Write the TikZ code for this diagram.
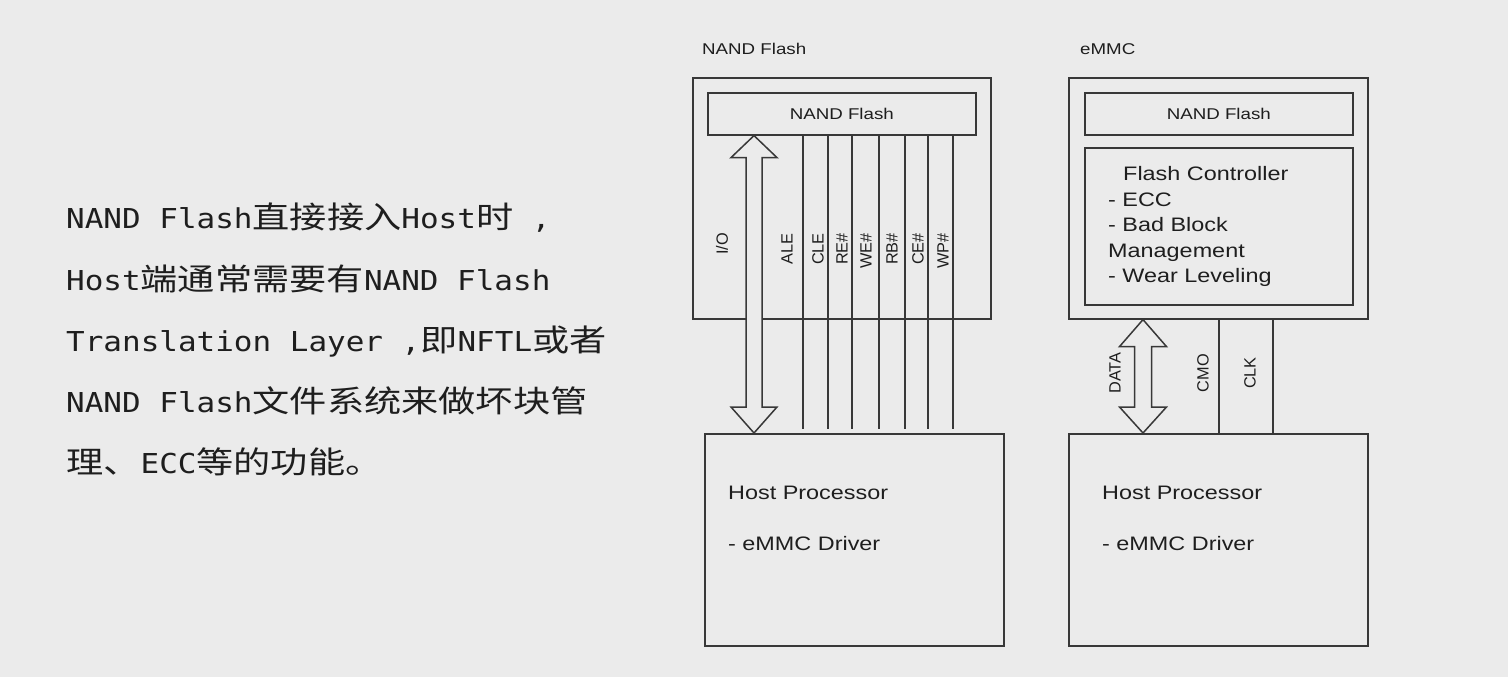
\documentclass[tikz,border=0pt]{standalone}
\usepackage{fontspec}
\setmainfont[FakeStretch=1.2]{Liberation Sans}
\newfontfamily\rotf{Liberation Sans}
\newfontfamily\monof[FakeStretch=1.13]{DejaVu Sans Mono}
\newfontfamily\cjkf[FakeStretch=1.22]{Noto Sans CJK SC}
\usetikzlibrary{calc}
\newcommand\mtxt[1]{{\monof\fontsize{27.4}{32}\selectfont #1}}
\newcommand\ctxt[1]{{\cjkf\fontsize{30.5}{32}\selectfont #1}}
\definecolor{bgc}{HTML}{EBEBEB}
\definecolor{lnc}{HTML}{383838}
\definecolor{txc}{HTML}{1E1E1E}
\tikzset{
  x=1pt, y=-1pt,
  box/.style={draw=lnc, line width=1.6pt, fill=bgc, inner sep=0pt, anchor=north west, text=txc},
  small/.style={font=\fontsize{15.6}{18}\selectfont, text=txc, inner sep=0pt},
  big/.style={font=\fontsize{19.5}{25.5}\selectfont, text=txc, inner sep=0pt, align=left, anchor=north west},
  sig/.style={draw=lnc, line width=1.5pt},
  siglbl/.style={font=\rotf\fontsize{16.3}{18}\selectfont, text=txc, inner sep=0pt, rotate=90},
  bus/.style={draw=lnc, line width=1.5pt, fill=bgc, line join=miter},
  para/.style={inner sep=0pt, anchor=base west, text=txc},
}
\begin{document}
\begin{tikzpicture}
\fill[bgc] (0,0) rectangle (1508,677);
\useasboundingbox (0,0) rectangle (1508,677);

% ---- left paragraph ----
\node[para] (p1) at (66,228) {\mtxt{NAND Flash}\ctxt{直接接入}\mtxt{Host}\ctxt{时}\mtxt{\ ,}};
\node[para] (p2) at (66,290) {\mtxt{Host}\ctxt{端通常需要有}\mtxt{NAND Flash}};
\node[para] (p3) at (66,351) {\mtxt{Translation Layer ,}\ctxt{即}\mtxt{NFTL}\ctxt{或者}};
\node[para] (p4) at (66,412) {\mtxt{NAND Flash}\ctxt{文件系统来做坏块管}};
\node[para] (p5) at (66,473) {\ctxt{理、}\mtxt{ECC}\ctxt{等的功能。}};

% ---- NAND Flash side ----
\node[small, anchor=west] (lblN) at (702,49) {NAND Flash};
\node[box, minimum width=298pt, minimum height=241pt] (outerL) at (692,77) {};
\node[box, minimum width=268pt, minimum height=42pt, font=\fontsize{15.6}{18}\selectfont] (nandL) at (707,92) {NAND Flash};
\node[box, minimum width=299pt, minimum height=212pt] (hostL) at (704,433) {};
\node[big] (hostLt) at ($(hostL.north west)+(24,53)$) {Host Processor\\[25.5pt]- eMMC Driver};

% I/O bus arrow
\coordinate (ioT) at (754,0 |- nandL.south);
\coordinate (ioB) at (754,0 |- hostL.north);
\draw[bus] (ioT) -- ++(23,22) -- ++(-15,0) -- ($(ioB)+(8,-26)$) -- ++(15,0) -- (ioB)
  -- ++(-23,-26) -- ++(15,0) -- ($(ioT)+(-8,22)$) -- ++(-15,0) -- cycle;
\node[siglbl, anchor=east] (lio) at (722,233) {I/O};

% control lines
\foreach \xx/\lx/\nm/\tt in {803/787/ale/ALE, 828/818/cle/CLE, 852/842/re/RE\#, 879/866/we/WE\#, 905/892/rb/RB\#, 928/918/ce/CE\#, 953/943/wp/WP\#}{
  \coordinate (\nm T) at (\xx,0 |- nandL.south);
  \coordinate (\nm B) at ($(\xx,0 |- hostL.north)+(0,-4)$);
  \draw[sig] (\nm T) -- (\nm B);
  \node[siglbl, anchor=east] (l\nm) at (\lx,233) {\tt};
}

% ---- eMMC side ----
\node[small, anchor=west] (lblE) at (1080,49) {eMMC};
\node[box, minimum width=299pt, minimum height=241pt] (outerR) at (1068,77) {};
\node[box, minimum width=268pt, minimum height=42pt, font=\fontsize{15.6}{18}\selectfont] (nandR) at (1084,92) {NAND Flash};
\node[box, minimum width=268pt, minimum height=157pt] (ctrl) at (1084,147) {};
\node[big] (ctrlt) at (1108,166.5) {\hspace*{15pt}Flash Controller\\- ECC\\- Bad Block\\Management\\- Wear Leveling};
\node[box, minimum width=299pt, minimum height=212pt] (hostR) at (1068,433) {};
\node[big] (hostRt) at ($(hostR.north west)+(34,53)$) {Host Processor\\[25.5pt]- eMMC Driver};

% DATA bus arrow
\coordinate (dT) at (1143,0 |- outerR.south);
\coordinate (dB) at (1143,0 |- hostR.north);
\draw[bus] (dT) -- ++(23.5,27) -- ++(-15,0) -- ($(dB)+(8.5,-26)$) -- ++(15,0) -- (dB)
  -- ++(-23.5,-26) -- ++(15,0) -- ($(dT)+(-8.5,27)$) -- ++(-15,0) -- cycle;
\node[siglbl] (ldata) at (1115,373) {DATA};

\draw[sig] (1219,0 |- outerR.south) coordinate (cmoT) -- (1219,0 |- hostR.north) coordinate (cmoB);
\node[siglbl] (lcmo) at (1203,373) {CMO};
\draw[sig] (1273,0 |- outerR.south) coordinate (clkT) -- (1273,0 |- hostR.north) coordinate (clkB);
\node[siglbl] (lclk) at (1250,373) {CLK};
\end{tikzpicture}
\end{document}
